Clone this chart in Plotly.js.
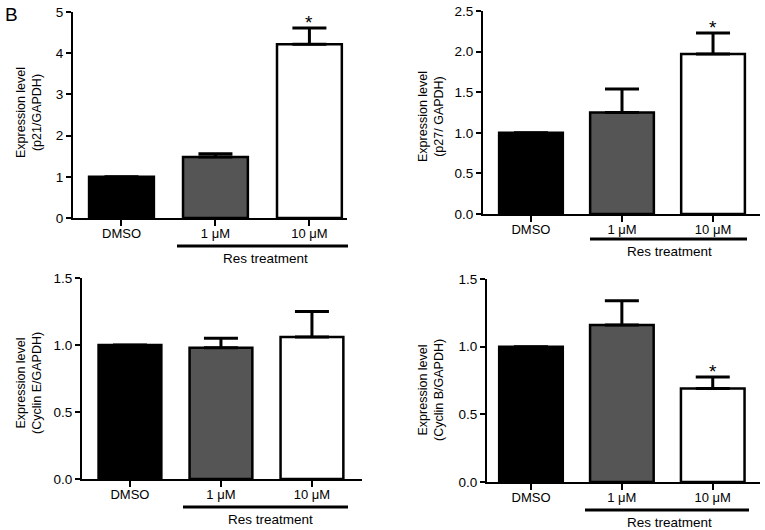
<!DOCTYPE html>
<html>
<head>
<meta charset="utf-8">
<script src="https://cdn.plot.ly/plotly-3.0.1.min.js"></script>
<style>html,body{margin:0;padding:0;background:#fff;}#chart{width:765px;height:530px;}</style>
</head>
<body>
<div id="chart"></div>
<script>
// ---- data ----
const categories = ['DMSO', '1 \u03bcM', '10 \u03bcM'];
const barColors = ['#000000', '#555555', '#ffffff'];

const p21Values = [1.0, 1.48, 4.22];
const p21Errors = [0, 0.08, 0.39];
const p21Signif = [false, false, true];

const p27Values = [1.0, 1.25, 1.97];
const p27Errors = [0, 0.29, 0.26];
const p27Signif = [false, false, true];

const cycEValues = [1.0, 0.98, 1.06];
const cycEErrors = [0, 0.07, 0.19];
const cycESignif = [false, false, false];

const cycBValues = [1.0, 1.16, 0.69];
const cycBErrors = [0, 0.18, 0.085];
const cycBSignif = [false, false, true];

const yTitles = ['(p21/GAPDH)', '(p27/ GAPDH)', '(Cyclin E/GAPDH)', '(Cyclin B/GAPDH)'];
const groupLabel = 'Res treatment';

// ---- layout helpers (pixel -> paper) ----
const W = 765, H = 530;
const px = x => x / W;
const py = y => 1 - y / H;
const FONT = 'Liberation Sans, Arial, Helvetica, sans-serif';

const panels = [
  {vals: p21Values, errs: p21Errors, sig: p21Signif, x: [73, 347], y: [12, 218], xr: [-0.516, 2.40], yr: [0, 5], dtick: 1, fmt: 'd', bw: 0.69,
   title: [29, 112], line: [177, 348, 246], text: [265, 258]},
  {vals: p27Values, errs: p27Errors, sig: p27Signif, x: [483, 760], y: [11, 214], xr: [-0.527, 2.516], yr: [0, 2.5], dtick: 0.5, fmt: '.1f', bw: 0.70,
   title: [431, 117], line: [590, 747, 239], text: [669, 251]},
  {vals: cycEValues, errs: cycEErrors, sig: cycESignif, x: [82, 362], y: [278, 479], xr: [-0.527, 2.55], yr: [0, 1.5], dtick: 0.5, fmt: '.1f', bw: 0.69,
   title: [29, 383], line: [183, 348, 507], text: [270, 519]},
  {vals: cycBValues, errs: cycBErrors, sig: cycBSignif, x: [487, 760], y: [279, 482], xr: [-0.484, 2.52], yr: [0, 1.5], dtick: 0.5, fmt: '.1f', bw: 0.70,
   title: [431, 390], line: [585, 749, 510], text: [669, 522]}
];

const data = [];
const layout = {
  width: W, height: H,
  margin: {l: 0, r: 0, t: 0, b: 0},
  paper_bgcolor: '#fff', plot_bgcolor: '#fff',
  showlegend: false,
  font: {family: FONT, color: '#000', size: 13},
  annotations: [],
  shapes: []
};

panels.forEach((p, i) => {
  const n = i === 0 ? '' : String(i + 1);
  const xa = 'x' + n, ya = 'y' + n;
  data.push({
    type: 'bar', x: categories, y: p.vals,
    xaxis: xa, yaxis: ya, width: p.bw,
    marker: {color: barColors, line: {color: '#000', width: 2.5}},
    error_y: {type: 'data', symmetric: false, array: p.errs, arrayminus: p.errs.map(() => 0),
              color: '#000', thickness: 3, width: 17},
    hoverinfo: 'skip'
  });
  layout['xaxis' + n] = {
    domain: [px(p.x[0]), px(p.x[1])], anchor: ya, type: 'category',
    range: p.xr, showline: true, linecolor: '#000', linewidth: 2,
    ticks: 'outside', ticklen: 6, tickwidth: 2, tickcolor: '#000',
    ticklabelstandoff: -4,
    showgrid: false, zeroline: false, fixedrange: true,
    tickfont: {family: FONT, size: 13, color: '#000'}
  };
  layout['yaxis' + n] = {
    domain: [py(p.y[1]), py(p.y[0])], anchor: xa,
    range: p.yr, dtick: p.dtick, tick0: 0, tickformat: p.fmt,
    showline: true, linecolor: '#000', linewidth: 2,
    ticks: 'outside', ticklen: 5, tickwidth: 2, tickcolor: '#000',
    showgrid: false, zeroline: false, fixedrange: true,
    tickfont: {family: FONT, size: 13.5, color: '#000'}
  };
  // y title
  layout.annotations.push({
    xref: 'paper', yref: 'paper', x: px(p.title[0]), y: py(p.title[1]),
    text: 'Expression level<br>' + yTitles[i], textangle: -90, showarrow: false,
    font: {family: FONT, size: 12.5, color: '#000'}, xanchor: 'center', yanchor: 'middle'
  });
  // significance stars
  p.sig.forEach((s, k) => {
    if (!s) return;
    layout.annotations.push({
      xref: xa, yref: ya, x: categories[k], y: p.vals[k] + p.errs[k],
      text: '*', showarrow: false, yanchor: 'bottom', yshift: -7,
      font: {family: FONT, size: 19, color: '#000'}
    });
  });
  // group bracket
  layout.shapes.push({
    type: 'line', xref: 'paper', yref: 'paper',
    x0: px(p.line[0]), x1: px(p.line[1]), y0: py(p.line[2]), y1: py(p.line[2]),
    line: {color: '#000', width: 3}
  });
  layout.annotations.push({
    xref: 'paper', yref: 'paper', x: px(p.text[0]), y: py(p.text[1]),
    text: groupLabel, showarrow: false, xanchor: 'center', yanchor: 'middle',
    font: {family: FONT, size: 13.5, color: '#000'}
  });
});

layout.annotations.push({
  xref: 'paper', yref: 'paper', x: px(11), y: py(15), text: 'B', showarrow: false,
  xanchor: 'center', yanchor: 'middle', font: {family: FONT, size: 19, color: '#000'}
});

Plotly.newPlot('chart', data, layout, {staticPlot: true, displayModeBar: false});
</script>
</body>
</html>
